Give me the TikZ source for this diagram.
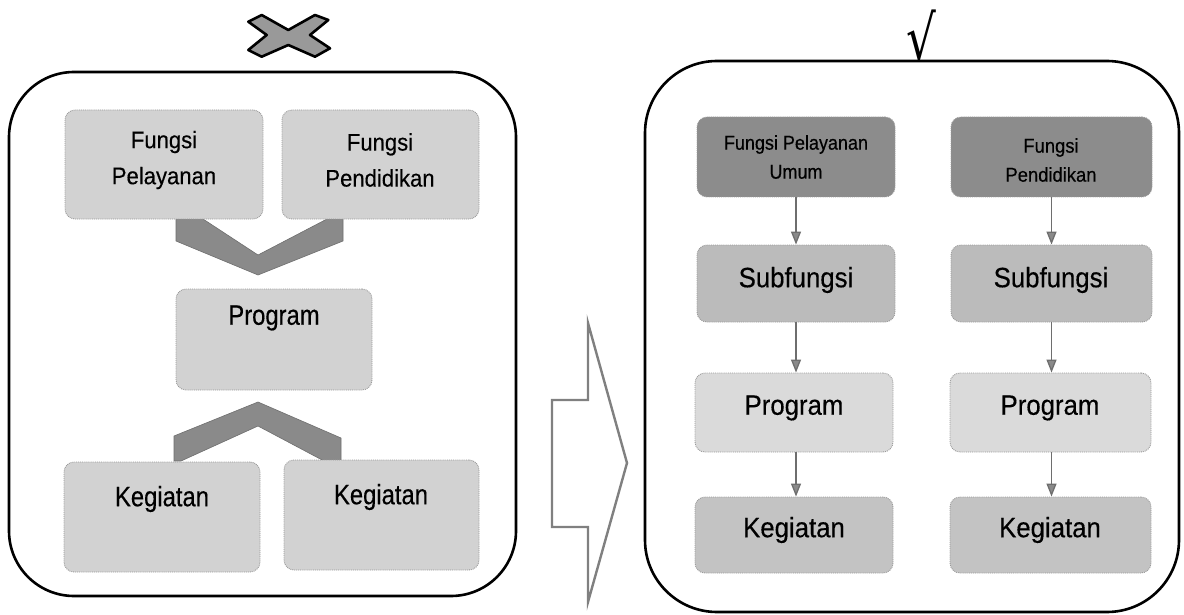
\documentclass[tikz,border=0pt]{standalone}
\usepackage{fontspec}
\setmainfont{Liberation Sans}[FakeBold=0.35]
\newfontfamily\symfont{DejaVu Sans}
\usetikzlibrary{arrows.meta}
\definecolor{leftbox}{HTML}{D2D2D2}
\definecolor{fdark}{HTML}{8C8C8C}
\definecolor{subf}{HTML}{BBBBBB}
\definecolor{progl}{HTML}{DADADA}
\definecolor{kegr}{HTML}{C3C3C3}
\definecolor{chev}{HTML}{8A8A8A}
\definecolor{arrgray}{HTML}{6E6E6E}
\newcommand{\sqz}[2][0.92]{\scalebox{#1}[1]{#2}}
\begin{document}
\begin{tikzpicture}[x=1pt,y=-1pt,
  gbox/.style={draw=black!40, densely dotted, line width=0.9pt, rounded corners=10pt, fill=#1, inner sep=0pt},
  outer/.style={draw=black, line width=2.6pt, rounded corners=#1},
  bigtxt/.style={font=\fontsize{28}{30}\selectfont, inner sep=0pt},
  midtxt/.style={font=\fontsize{24}{36}\selectfont, align=center, inner sep=0pt},
  smalltxt/.style={font=\fontsize{20}{29}\selectfont, align=center, inner sep=0pt},
  flow/.style={draw=arrgray, line width=1.3pt, -{Triangle[width=10pt,length=13pt,fill=chev]}},
  chevron/.style={fill=chev, draw=chev!80!black, line width=0.6pt}]
\useasboundingbox (0,0) rectangle (1184,615);
\fill[white] (0,0) rectangle (1184,615);

% ---------- left panel ----------
\draw[outer=65pt] (9,72) rectangle (516,596);

% cross mark
\draw[black, line width=2.6pt, fill=black!40, line join=round]
  (248.3,21.7) -- (261.7,15) -- (288.3,30) -- (315,15) -- (328.3,20) -- (310,35)
  -- (330,48.3) -- (315,56.7) -- (288.3,45) -- (261.7,56.7) -- (248.3,50) -- (266.7,35) -- cycle;

% chevrons
\path[chevron] (176,219) -- (176,241) -- (258,275) -- (343,241) -- (343,219)
  -- (327,219) -- (258,255) -- (203,219) -- cycle;
\path[chevron] (174,461) -- (174,436) -- (258,402) -- (341,438) -- (341,461)
  -- (324,461) -- (258,426) -- (181,461) -- cycle;

\node[gbox=leftbox, minimum width=198pt, minimum height=109pt] (fpl) at (164,164.5) {};
\node[gbox=leftbox, minimum width=197pt, minimum height=109pt] (fpd) at (380.5,164.5) {};
\node[gbox=leftbox, minimum width=196pt, minimum height=101pt] (prg) at (274,339.5) {};
\node[gbox=leftbox, minimum width=196pt, minimum height=110pt] (kg1) at (162,517) {};
\node[gbox=leftbox, minimum width=195pt, minimum height=110pt] (kg2) at (381.5,515) {};

\node[midtxt] (tfpl) at (164,160) {\sqz{Fungsi}\\\sqz{Pelayanan}};
\node[midtxt] (tfpd) at (380,160) {\sqz{Fungsi}\\\sqz{Pendidikan}};
\node[bigtxt] (tprg) at (274,318) {\sqz[0.85]{Program}};
\node[bigtxt] (tkg1) at (162,499) {\sqz[0.85]{Kegiatan}};
\node[bigtxt] (tkg2) at (381,497) {\sqz[0.85]{Kegiatan}};

% ---------- big arrow ----------
\draw[draw=black!50, line width=2.4pt, fill=white, line join=miter]
  (552,400) -- (588,400) -- (588,323) -- (627,463) -- (588,602) -- (588,527) -- (552,527) -- cycle;

% ---------- right panel ----------
\draw[outer=72pt] (645,61) rectangle (1179,612);
\node[font=\symfont\fontsize{52}{52}\selectfont, inner sep=0pt] (check) at (921,36) {\scalebox{0.9}[1.2]{√}};

\node[gbox=fdark, minimum width=198pt, minimum height=80pt] (a1) at (796,157) {};
\node[gbox=subf, minimum width=198pt, minimum height=77pt] (a2) at (796,283.5) {};
\node[gbox=progl, minimum width=198pt, minimum height=79pt] (a3) at (794,412.5) {};
\node[gbox=kegr, minimum width=198pt, minimum height=76pt] (a4) at (794,535) {};

\node[gbox=fdark, minimum width=201pt, minimum height=80pt] (b1) at (1051.5,157) {};
\node[gbox=subf, minimum width=201pt, minimum height=77pt] (b2) at (1051.5,283.5) {};
\node[gbox=progl, minimum width=201pt, minimum height=79pt] (b3) at (1050.5,412.5) {};
\node[gbox=kegr, minimum width=201pt, minimum height=76pt] (b4) at (1050.5,535) {};

\node[smalltxt] (ta1) at (796,157) {\sqz[0.9]{Fungsi Pelayanan}\\\sqz[0.9]{Umum}};
\node[smalltxt] (tb1) at (1051,160) {\sqz{Fungsi}\\\sqz{Pendidikan}};
\node[bigtxt] (ta2) at (796,280) {\sqz{Subfungsi}};
\node[bigtxt] (tb2) at (1051,280) {\sqz{Subfungsi}};
\node[bigtxt] (ta3) at (794,408) {\sqz{Program}};
\node[bigtxt] (tb3) at (1050,408) {\sqz{Program}};
\node[bigtxt] (ta4) at (794,530) {\sqz{Kegiatan}};
\node[bigtxt] (tb4) at (1050,530) {\sqz{Kegiatan}};

\draw[flow] (a1.south) -- (a2.north);
\draw[flow] (a2.south) -- (a3.north -| a2.south);
\draw[flow] (a3.south -| a2.south) -- (a4.north -| a2.south);
\draw[flow] (b1.south) -- (b2.north);
\draw[flow] (b2.south) -- (b3.north -| b2.south);
\draw[flow] (b3.south -| b2.south) -- (b4.north -| b2.south);
\end{tikzpicture}
\end{document}
